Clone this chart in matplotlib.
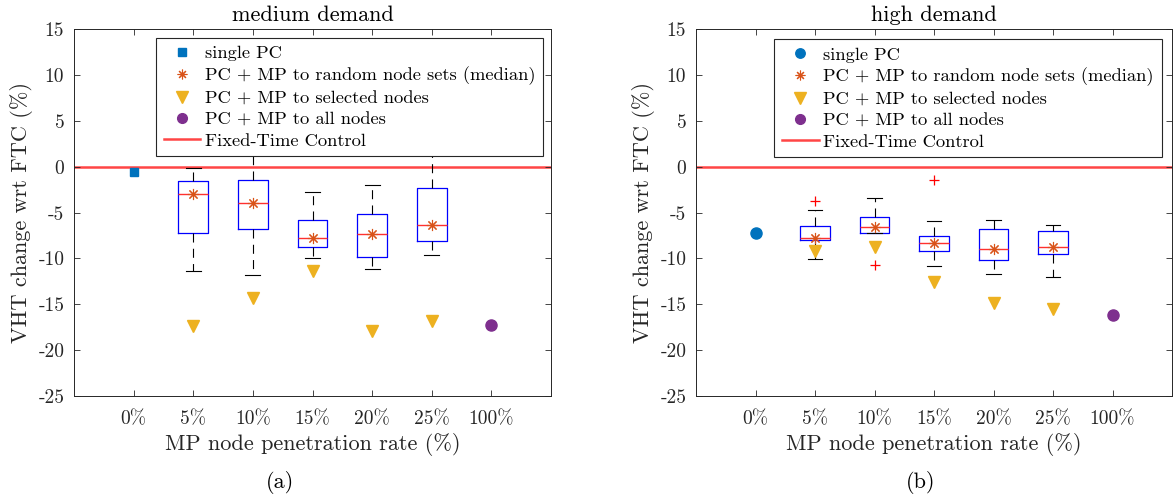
import matplotlib
matplotlib.use('Agg')
import matplotlib.pyplot as plt
import numpy as np
from matplotlib.lines import Line2D

plt.rcParams['font.family'] = 'cmr10'
plt.rcParams['mathtext.fontset'] = 'cm'
plt.rcParams['axes.unicode_minus'] = False
plt.rcParams['lines.scale_dashes'] = False
plt.rcParams['axes.formatter.use_mathtext'] = False

categories = ['0%', '5%', '10%', '15%', '20%', '25%', '100%']
y_ticks = [-25, -20, -15, -10, -5, 0, 5, 10, 15]

# ---- medium demand ----
med_single_pc = -0.55
med_all_nodes = -17.3
med_selected = [-17.4, -14.3, -11.4, -17.9, -16.8]
med_whislo = [-11.35, -11.8, -9.95, -11.1, -9.6]
med_q1 = [-7.2, -6.75, -8.8, -9.8, -8.1]
med_median = [-3.0, -4.0, -7.75, -7.3, -6.3]
med_q3 = [-1.6, -1.4, -5.85, -5.2, -2.35]
med_whishi = [-0.1, 2.0, -2.7, -1.95, 1.8]
med_fliers = [[], [], [], [], []]

# ---- high demand ----
high_single_pc = -7.25
high_all_nodes = -16.2
high_selected = [-9.15, -8.8, -12.6, -14.9, -15.5]
high_whislo = [-10.1, -7.25, -10.85, -11.7, -12.0]
high_q1 = [-8.0, -7.25, -9.2, -10.15, -9.55]
high_median = [-7.75, -6.55, -8.35, -8.95, -8.75]
high_q3 = [-6.5, -5.5, -7.55, -6.8, -7.05]
high_whishi = [-4.7, -3.4, -5.9, -5.85, -6.35]
high_fliers = [[-3.7], [-10.7], [-1.4], [], []]

legend_labels = ['single PC', 'PC + MP to random node sets (median)',
                 'PC + MP to selected nodes', 'PC + MP to all nodes',
                 'Fixed-Time Control']

C_BLUE = '#0072BD'
C_ORANGE = '#D95319'
C_YELLOW = '#EDB120'
C_PURPLE = '#7E2F8E'
C_RED = '#ff4545'
C_AX = '#262626'

fig = plt.figure(figsize=(11.75, 5.01), dpi=100)
ax1 = fig.add_axes([74/1175, 1-396/501, 477/1175, 366.7/501])
ax2 = fig.add_axes([696/1175, 1-396/501, 476/1175, 366.7/501])


def draw(ax, single, allnodes, selected, wlo, q1, med, q3, whi, fliers,
         single_marker, single_ms, title, leg_anchor):
    pos = np.arange(1, len(categories) + 1)
    box_pos = pos[1:6]
    stats = []
    for lo, a, m, b, hi, f in zip(wlo, q1, med, q3, whi, fliers):
        stats.append(dict(med=m, q1=a, q3=b, whislo=lo, whishi=hi, fliers=f))
    ax.axhline(0, color=C_RED, lw=1.8, zorder=1)
    ax.bxp(stats, positions=box_pos, widths=0.5, capwidths=0.25,
           showfliers=True, manage_ticks=False,
           boxprops=dict(color='blue', lw=0.9),
           medianprops=dict(color='#ff3030', lw=1.0),
           whiskerprops=dict(color='black', lw=0.8, linestyle=(0, (6.5, 4.5))),
           capprops=dict(color='black', lw=0.8),
           flierprops=dict(marker='+', markeredgecolor='red', markersize=7,
                           markeredgewidth=0.9, linestyle='none'))
    ax.plot([pos[0]], [single], linestyle='none', marker=single_marker,
            color=C_BLUE, ms=single_ms, zorder=3)
    ax.plot(box_pos, med, linestyle='none', marker=(8, 2, 0), color=C_ORANGE,
            ms=8, mew=0.8, zorder=4)
    ax.plot(box_pos, selected, linestyle='none', marker='v', color=C_YELLOW,
            ms=9, zorder=3)
    ax.plot([pos[-1]], [allnodes], linestyle='none', marker='o', color=C_PURPLE,
            ms=8, zorder=3)

    ax.set_xlim(0, 8)
    ax.set_ylim(-25, 15)
    ax.set_xticks(pos)
    ax.set_xticklabels(categories)
    ax.set_yticks(y_ticks)
    ax.set_yticklabels([str(v) for v in y_ticks])
    ax.tick_params(direction='in', length=4, width=0.6, top=True, right=True,
                   labelsize=14, colors=C_AX, pad=7)
    ax.tick_params(axis='x', pad=10)
    for s in ax.spines.values():
        s.set_color(C_AX)
        s.set_linewidth(0.7)
    ax.set_xlabel('MP node penetration rate (%)', fontsize=16, color=C_AX)
    ax.set_ylabel('VHT change wrt FTC (%)', fontsize=16, color=C_AX)
    ax.set_title(title, fontsize=16, color='black', pad=6)

    handles = [
        Line2D([], [], linestyle='none', marker=single_marker, color=C_BLUE,
               ms=single_ms * 0.85),
        Line2D([], [], linestyle='none', marker=(8, 2, 0), color=C_ORANGE,
               ms=7, mew=0.8),
        Line2D([], [], linestyle='none', marker='v', color=C_YELLOW, ms=8),
        Line2D([], [], linestyle='none', marker='o', color=C_PURPLE, ms=7),
        Line2D([], [], color=C_RED, lw=1.8),
    ]
    leg = ax.legend(handles, legend_labels, loc='upper right',
                    bbox_to_anchor=leg_anchor, fontsize=13.3, frameon=True,
                    fancybox=False, framealpha=1, edgecolor=C_AX,
                    handlelength=2.0, handletextpad=0.25, borderpad=0.42,
                    labelspacing=0.28, borderaxespad=0)
    leg.get_frame().set_linewidth(0.8)


draw(ax1, med_single_pc, med_all_nodes, med_selected, med_whislo, med_q1,
     med_median, med_q3, med_whishi, med_fliers, 's', 6, 'medium demand',
     (0.984, 0.977))
draw(ax2, high_single_pc, high_all_nodes, high_selected, high_whislo, high_q1,
     high_median, high_q3, high_whishi, high_fliers, 'o', 8, 'high demand',
     (0.978, 0.974))

fig.text(280/1175, 1-483/501, '(a)', fontsize=16, ha='center', va='center')
fig.text(921/1175, 1-483/501, '(b)', fontsize=16, ha='center', va='center')

fig.savefig('out.png', dpi=100)
